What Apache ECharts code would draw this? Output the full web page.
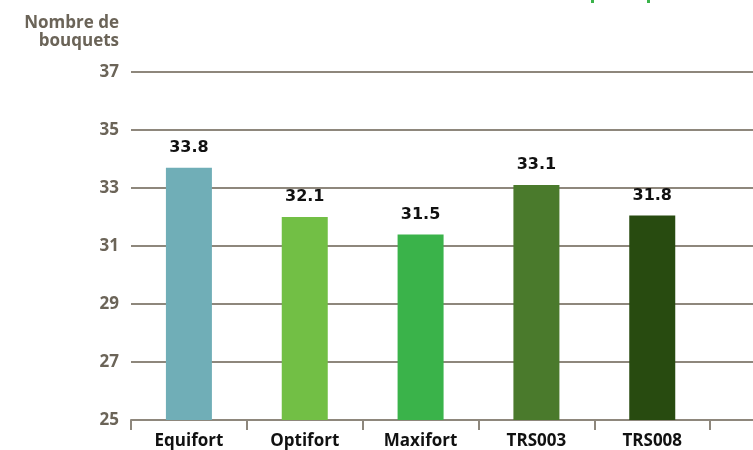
<!DOCTYPE html>
<html><head><meta charset="utf-8">
<script src="https://cdn.jsdelivr.net/npm/echarts@6/dist/echarts.min.js"></script>
<style>html,body{margin:0;padding:0;background:#fff}#c{width:753px;height:450px}</style>
</head><body><div id="c"></div>
<script>
var categories = ["Equifort", "Optifort", "Maxifort", "TRS003", "TRS008", ""];
var barHeights = [33.7, 32.0, 31.4, 33.1, 32.05, null];
var valueLabels = ["33.8", "32.1", "31.5", "33.1", "31.8", ""];
var barColors = ["#70AEB7", "#72BF45", "#3AB34A", "#4A7A2C", "#284B10", "#ffffff"];
var yTicks = [25, 27, 29, 31, 33, 35, 37];

var font = "'Open Sans', 'DejaVu Sans', sans-serif";
var axisColor = "#8E877C";
var chart = echarts.init(document.getElementById('c'));
chart.setOption({
  animation: false,
  grid: {left: 131, width: 695, top: 72, height: 348, containLabel: false, outerBoundsMode: 'none'},
  graphic: [{
    type: 'text', right: 753 - 119, top: 14,
    style: {text: 'Nombre de\nbouquets', fill: '#6B6458', font: 'bold 17px ' + font, textAlign: 'right', lineHeight: 18}
  }, {
    type: 'rect', left: 591, top: 0, shape: {width: 3, height: 3}, style: {fill: '#3AB34A'}
  }, {
    type: 'rect', left: 647, top: 0, shape: {width: 3, height: 3}, style: {fill: '#3AB34A'}
  }],
  xAxis: {
    type: 'category', data: categories,
    axisLine: {lineStyle: {color: axisColor, width: 2}},
    axisTick: {show: true, length: 10, lineStyle: {color: axisColor, width: 2}},
    axisLabel: {color: '#111', fontFamily: font, fontWeight: 'bold', fontSize: 17, margin: 13}
  },
  yAxis: {
    type: 'value', min: yTicks[0], max: yTicks[yTicks.length - 1], interval: 2,
    axisLine: {show: false}, axisTick: {show: false},
    axisLabel: {color: '#6B6458', fontFamily: font, fontWeight: 'bold', fontSize: 17, margin: 12},
    splitLine: {lineStyle: {color: axisColor, width: 2}}
  },
  series: [{
    type: 'bar', barWidth: 46,
    data: barHeights.map(function (v, i) { return {value: v, itemStyle: {color: barColors[i]}}; }),
    label: {
      show: true, position: 'top', distance: 12,
      color: '#111', fontFamily: "'DejaVu Sans', sans-serif", fontWeight: 'bold', fontSize: 16,
      formatter: function (p) { return valueLabels[p.dataIndex]; }
    }
  }]
});
</script></body></html>
